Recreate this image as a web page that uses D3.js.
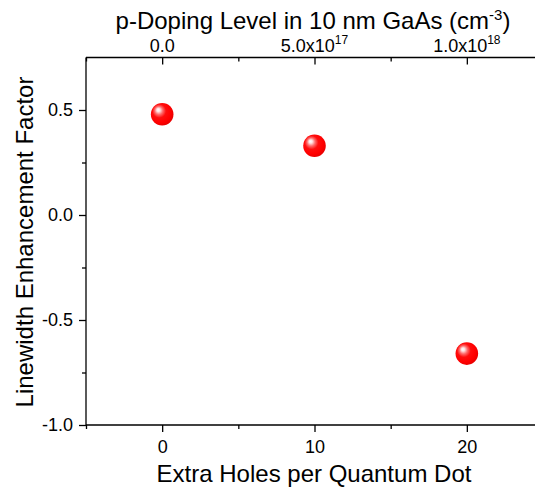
<!DOCTYPE html>
<html><head><meta charset="utf-8">
<script src="https://cdn.jsdelivr.net/npm/d3@7"></script>
<style>
body{margin:0;background:#fff}
text{font-family:"Liberation Sans",Arial,sans-serif;fill:#000}
</style>
</head><body>
<svg id="chart" width="535" height="490"></svg>
<script>
// Measured linewidth enhancement factor vs. extra holes per dot
const holes = [0, 10, 20];
const alphaFactor = [0.48, 0.33, -0.66];

// Bottom axis ticks (extra holes per QD)
const xMajor = [0, 10, 20];
const xMinor = [-5, 5, 15, 25];
// Top axis labels: doping level equivalent of each bottom major tick
const topMantissa = ["0.0", "5.0x10", "1.0x10"];
const topExponent = ["", "17", "18"];
// Left axis ticks
const yMajor = [-1.0, -0.5, 0.0, 0.5];
const yMinor = [-0.75, -0.25, 0.25];

const svg = d3.select("#chart");
const W = 535, H = 490;
const x = d3.scaleLinear().domain([-5, 25]).range([86, 543]);
const y = d3.scaleLinear().domain([-1.0, 0.75]).range([425, 57.5]);
const AX = "#000", SW = 1.3, TICK_FS = 18, TITLE_FS = 24;

// Marker gradient: glossy red sphere
const defs = svg.append("defs");
const grad = defs.append("radialGradient").attr("id", "ball")
  .attr("cx", "42%").attr("cy", "42%").attr("r", "60%")
  .attr("fx", "32%").attr("fy", "30%");
[[0, "#ffffff"], [0.12, "#ffe4e4"], [0.3, "#ff6a6a"], [0.5, "#ff0d0d"], [0.8, "#ff0000"], [1, "#e80000"]]
  .forEach(([o, c]) => grad.append("stop").attr("offset", o).attr("stop-color", c));

// Bottom axis
const bottomMinor = svg.append("g").attr("transform", `translate(0,${y(-1.0)})`)
  .call(d3.axisBottom(x).tickValues(xMinor).tickSize(4).tickFormat(""));
bottomMinor.select(".domain").remove();
const bottomMajor = svg.append("g").attr("transform", `translate(0,${y(-1.0)})`)
  .call(d3.axisBottom(x).tickValues(xMajor).tickSize(7).tickPadding(8).tickFormat(d => String(d)));
bottomMajor.select(".domain").attr("d", `M${x(-5)},0H${W}`);
[bottomMinor, bottomMajor].forEach(s => {
  s.selectAll("line,path").attr("stroke", AX).attr("stroke-width", SW);
  s.selectAll("text").attr("font-size", TICK_FS).attr("fill", "#000");
});

// Top axis (ticks point into the plot)
const topMinor = svg.append("g").attr("transform", `translate(0,${y(0.75)})`)
  .call(d3.axisTop(x).tickValues(xMinor).tickSize(-4).tickFormat(""));
topMinor.select(".domain").remove();
const topMajor = svg.append("g").attr("transform", `translate(0,${y(0.75)})`)
  .call(d3.axisTop(x).tickValues(xMajor).tickSize(-7).tickFormat(""));
topMajor.select(".domain").attr("d", `M${x(-5)},0H${W}`);
[topMinor, topMajor].forEach(s => s.selectAll("line,path").attr("stroke", AX).attr("stroke-width", SW));

const topLbl = svg.append("g");
xMajor.forEach((v, i) => {
  const t = topLbl.append("text").attr("x", x(v)).attr("y", 52)
    .attr("text-anchor", "middle").attr("font-size", TICK_FS);
  t.append("tspan").text(topMantissa[i]);
  if (topExponent[i]) t.append("tspan").attr("font-size", 12).attr("dy", -8).text(topExponent[i]);
});

// Left axis (plain hyphen for negative values)
const leftMinor = svg.append("g").attr("transform", `translate(${x(-5)},0)`)
  .call(d3.axisLeft(y).tickValues(yMinor).tickSize(4).tickFormat(""));
leftMinor.select(".domain").remove();
const leftMajor = svg.append("g").attr("transform", `translate(${x(-5)},0)`)
  .call(d3.axisLeft(y).tickValues(yMajor).tickSize(7).tickPadding(6).tickFormat(d => d.toFixed(1)));
leftMajor.select(".domain").attr("d", `M0,${y(0.75)}V${y(-1.0)}`);
[leftMinor, leftMajor].forEach(s => {
  s.selectAll("line,path").attr("stroke", AX).attr("stroke-width", SW);
  s.selectAll("text").attr("font-size", TICK_FS).attr("fill", "#000");
});

// Axis titles
svg.append("text").attr("x", 314).attr("y", 482).attr("text-anchor", "middle")
  .attr("font-size", TITLE_FS).text("Extra Holes per Quantum Dot");
svg.append("text").attr("transform", `translate(33,${242}) rotate(-90)`)
  .attr("text-anchor", "middle").attr("font-size", TITLE_FS).text("Linewidth Enhancement Factor");
const tt = svg.append("text").attr("x", 313).attr("y", 29).attr("text-anchor", "middle").attr("font-size", TITLE_FS);
tt.append("tspan").text("p-Doping Level in 10 nm GaAs (cm");
tt.append("tspan").attr("font-size", 15).attr("dy", -9).text("-3");
tt.append("tspan").attr("dy", 9).text(")");

// Data markers
svg.append("g").selectAll("circle").data(holes).join("circle")
  .attr("cx", d => x(d)).attr("cy", (d, i) => y(alphaFactor[i]))
  .attr("r", 11.3).attr("fill", "url(#ball)");
</script>
</body></html>
